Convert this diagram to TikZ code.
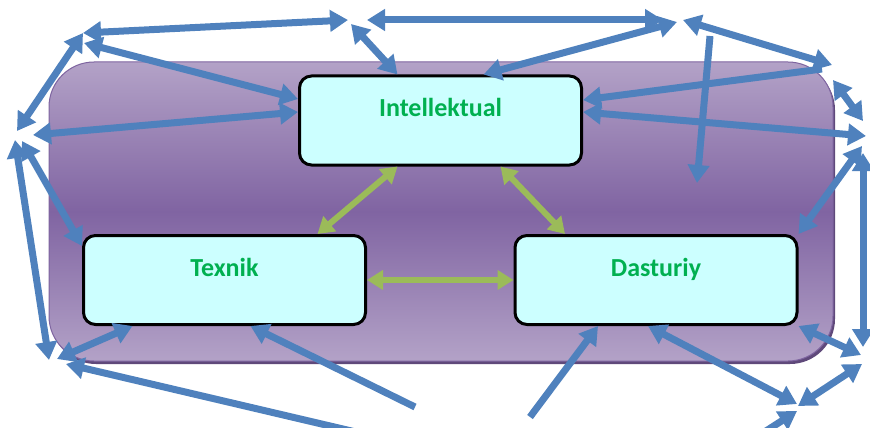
\documentclass[tikz,border=0pt]{standalone}
\usepackage{fontspec}
\setmainfont{Carlito}
\usetikzlibrary{arrows.meta,calc}

\definecolor{arrowblue}{HTML}{4F81BD}
\definecolor{arrowgreen}{HTML}{9BBB59}
\definecolor{labelgreen}{HTML}{00B050}
\definecolor{boxcyan}{HTML}{CCFFFF}
\definecolor{panellight}{HTML}{B3A2C7}
\definecolor{paneldark}{HTML}{8064A2}
\definecolor{panelline}{HTML}{7E64A0}
\definecolor{panelshadow}{HTML}{5F497A}

\tikzset{
  bhead/.tip={Triangle[length=18pt,width=21pt]},
  ghead/.tip={Triangle[length=16pt,width=19pt]},
}

\begin{document}
\begin{tikzpicture}[x=1pt,y=-1pt,
  kind node/.style={draw, line width=3pt, fill=boxcyan, rounded corners=12pt,
    minimum width=282pt, minimum height=89pt, text height=20pt, text depth=28pt,
    font=\fontsize{26pt}{30pt}\selectfont\bfseries, text=labelgreen},
  link/.style={draw=arrowblue, line width=7pt, -bhead},
  link both/.style={draw=arrowblue, line width=7pt, bhead-bhead},
  tie/.style={draw=arrowgreen, line width=6pt, ghead-ghead}]
\useasboundingbox (0,0) rectangle (870,428);

% panel behind the boxes
\fill[panelshadow, rounded corners=45pt] (51,65) rectangle (835,364);
\shadedraw[top color=panellight, bottom color=panellight, middle color=paneldark,
  draw=panelline, line width=1pt, rounded corners=45pt] (49,62) rectangle (833,361);

\node[kind node] (intel) at (440.5,120.5) {Intellektual};
\node[kind node] (tex)   at (224.5,280)   {Texnik};
\node[kind node] (dast)  at (656,280)     {Dasturiy};

% free ends of the blue arrows
\coordinate (la)  at (17,131);
\coordinate (lb)  at (33,135);
\coordinate (lc)  at (15,140);
\coordinate (ld)  at (22,141);
\coordinate (ul)  at (83,33);
\coordinate (ul2) at (84,43);
\coordinate (t1)  at (348,20);
\coordinate (t2)  at (351,24);
\coordinate (t3)  at (367,20);
\coordinate (tr1) at (663,20);
\coordinate (tr2) at (677,22);
\coordinate (tr3) at (683,20);
\coordinate (v1)  at (710,36);
\coordinate (v2)  at (697,183);
\coordinate (r1)  at (832,65);
\coordinate (r1b) at (822,69);
\coordinate (r3)  at (833,80);
\coordinate (r4)  at (863,121);
\coordinate (r5)  at (866,136);
\coordinate (r6)  at (863,153);
\coordinate (r7)  at (863,347);
\coordinate (r8)  at (862,146);
\coordinate (br1) at (861,355);
\coordinate (br2) at (862,364);
\coordinate (b1)  at (798,406);
\coordinate (b2)  at (797,404);
\coordinate (b0)  at (752,440);
\coordinate (b3)  at (797,411);
\coordinate (s1)  at (530,417);
\coordinate (s2)  at (415,407);
\coordinate (s3)  at (360,433);
\coordinate (bl1) at (66,364);
\coordinate (bl2) at (49,360);
\coordinate (bl3) at (57,359);

\path
(la)  edge[link both] (ul)
(lb)  edge[link both] ($(intel.west)+(0,-8.5)$)
(lc)  edge[link both] (bl2)
(ld)  edge[link both] ($(tex.north west)+(0,12)$)
(ul)  edge[link both] (t1)
(ul2) edge[link both] ($(intel.west)+(0,-21.5)$)
(t2)  edge[link both] ($(intel.north)+(-43,0)$)
(t3)  edge[link both] (tr1)
(tr2) edge[link both] ($(intel.north)+(43,0)$)
(tr3) edge[link both] (r1)
(v1)  edge[link] (v2)
(r1b) edge[link] ($(intel.east)+(0,-20.5)$)
(r3)  edge[link both] (r4)
(r5)  edge[link both] ($(intel.east)+(0,-8.5)$)
(r6)  edge[link both] (r7)
(r8)  edge[link both] (dast.north east)
(br1) edge[link both] (dast.south east)
(br2) edge[link both] (b1)
(b2)  edge[link both] ($(dast.south)+(-8,0)$)
(b0)  edge[link] (b3)
(s1)  edge[link] ($(dast.south)+(-58,0)$)
(s2)  edge[link] ($(tex.south)+(26,0)$)
(s3)  edge[link] (bl1)
(bl3) edge[link both] ($(tex.south)+(-92,0)$);

% green links between the three kinds
\path
($(intel.south)+(-43,0)$) edge[tie] ($(tex.north)+(93,0)$)
($(intel.south)+(60,0)$)  edge[tie] ($(dast.north)+(-91,0)$)
(tex.east) edge[tie] (dast.west);
\end{tikzpicture}
\end{document}
